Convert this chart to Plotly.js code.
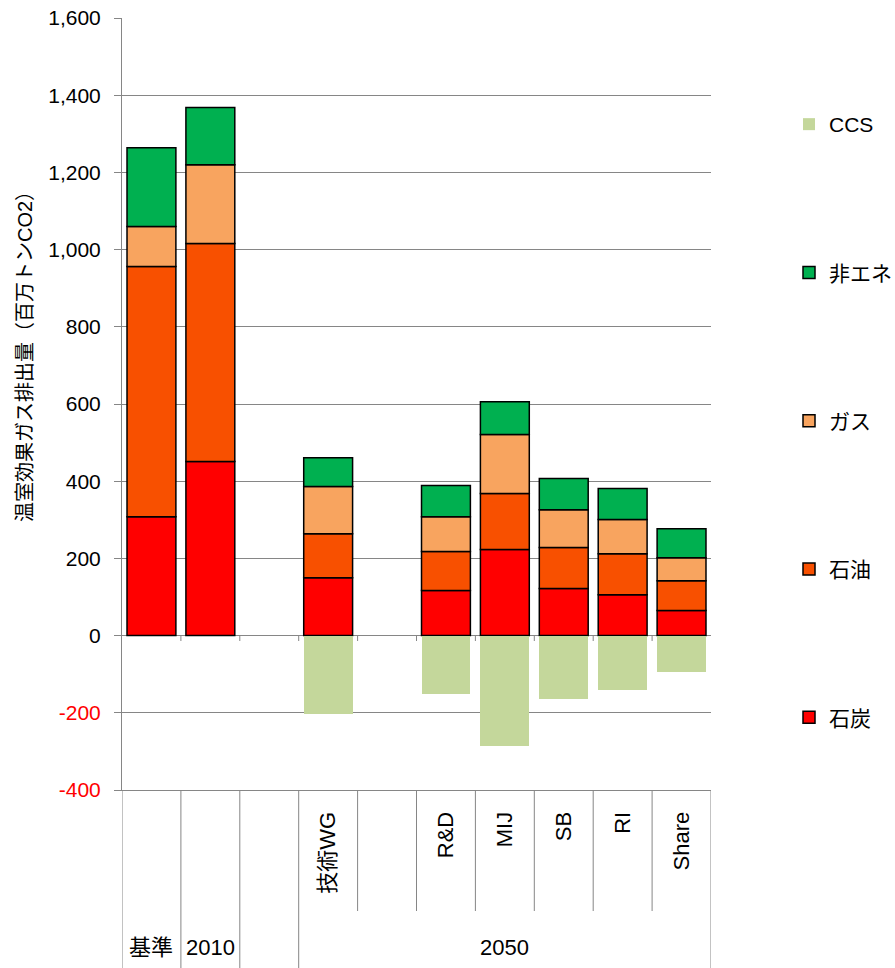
<!DOCTYPE html>
<html>
<head>
<meta charset="utf-8">
<script src="https://cdn.plot.ly/plotly-3.0.1.min.js"></script>
<style>html,body{margin:0;padding:0;background:#fff;}#chart{width:895px;height:968px;}</style>
</head>
<body>
<div id="chart"></div>
<script>
// ---- data ----
var innerLabels = ['', '', '', '技術WG', '', 'R&D', 'MIJ', 'SB', 'RI', 'Share'];
var groupKeys   = ['基準', '2010', '_gap', '2050', '2050', '2050', '2050', '2050', '2050', '2050'];
var groupLabels = ['基準', '2010', '2050'];
var coal    = [308, 451, null, 150, null, 117, 223, 122, 106, 65];
var oil     = [648, 565, null, 114, null, 101, 145, 106, 106, 77];
var gas     = [104, 204, null, 122, null, 90, 153, 98, 89, 60];
var nonEne  = [204, 148, null, 75, null, 81, 85, 81, 80, 75];
var ccs     = [null, null, null, -202, null, -150, -285, -163, -140, -93];
var seriesNames = ['石炭', '石油', 'ガス', '非エネ', 'CCS'];
var yTickVals = [-400, -200, 0, 200, 400, 600, 800, 1000, 1200, 1400, 1600];
var yTitle = '温室効果ガス排出量（百万トンCO2）';

// ---- build ----
var FONT = 'Liberation Sans, Arial, Noto Sans CJK JP, sans-serif';
var colors = ['#FF0000', '#F85000', '#F8A45F', '#00B050', '#C4D79B'];
var xs = innerLabels.map(function (_, i) { return i; });
var seriesVals = [coal, oil, gas, nonEne, ccs];
var traces = seriesVals.map(function (vals, k) {
  return {
    type: 'bar', x: xs, y: vals, name: seriesNames[k], legendgroup: 'g' + k,
    legendrank: seriesVals.length - k,
    width: 0.83,
    marker: { color: colors[k], line: { color: k === 4 ? colors[k] : '#000000', width: k === 4 ? 0 : 1.5 } },
    hoverinfo: 'skip'
  };
});

var yTickText = yTickVals.map(function (v) {
  var s = Math.abs(v).toLocaleString('en-US');
  if (v < 0) return '<span style="fill:#FF0000;color:#FF0000">-' + s + '</span>';
  return s;
});

var shapes = [];
var yFull = -(968 - 790) / 772, yShort = -(911 - 790) / 772;
for (var b = -1; b < innerLabels.length; b++) {
  var full = (b === -1 || b === innerLabels.length - 1 || groupKeys[b] !== groupKeys[b + 1]);
  shapes.push({ type: 'line', xref: 'x', yref: 'paper', x0: b + 0.5, x1: b + 0.5, y0: 0, y1: full ? yFull : yShort,
    line: { color: '#868686', width: 1 } });
  if (b >= 0 && b < innerLabels.length - 1) {
    shapes.push({ type: 'line', xref: 'x', yref: 'y', x0: b + 0.5, x1: b + 0.5, y0: 0, y1: -14,
      line: { color: '#868686', width: 1 } });
  }
}

var annotations = [];
groupLabels.forEach(function (g) {
  var idx = [];
  groupKeys.forEach(function (k, i) { if (k === g) idx.push(i); });
  var cx = (idx[0] + idx[idx.length - 1]) / 2;
  annotations.push({ xref: 'x', yref: 'paper', x: cx, y: -(947 - 790) / 772, text: g, showarrow: false,
    xanchor: 'center', yanchor: 'middle', font: { family: FONT, size: 22, color: '#000' } });
});
annotations.push({ xref: 'paper', yref: 'paper', x: -(122 - 25) / 589, y: (790 - 352) / 772, text: yTitle,
  textangle: -90, showarrow: false, xanchor: 'center', yanchor: 'middle',
  font: { family: FONT, size: 20, color: '#000' } });

var layout = {
  width: 895, height: 968,
  margin: { l: 122, r: 184, t: 18, b: 178, autoexpand: false },
  paper_bgcolor: '#ffffff', plot_bgcolor: '#ffffff',
  barmode: 'relative', bargap: 0,
  font: { family: FONT, size: 20, color: '#000' },
  showlegend: true,
  legend: { xref: 'container', yref: 'container', x: 789 / 895, xanchor: 'left', y: 1 - 104 / 968, yanchor: 'top',
    traceorder: 'grouped', tracegroupgap: 118, maxheight: 850,
    font: { family: FONT, size: 21, color: '#000' }, bgcolor: 'rgba(0,0,0,0)' },
  xaxis: {
    range: [-0.5, 9.5], tickmode: 'array', tickvals: xs, ticktext: innerLabels, tickangle: -90,
    ticks: '', showgrid: false, zeroline: false, showline: true, linecolor: '#868686', linewidth: 1,
    ticklabelstandoff: 12, tickfont: { family: FONT, size: 22, color: '#000' }, fixedrange: true
  },
  yaxis: {
    range: [-400, 1600], tickmode: 'array', tickvals: yTickVals, ticktext: yTickText,
    ticks: 'outside', ticklen: 7, tickcolor: '#868686', tickwidth: 1,
    showgrid: true, gridcolor: '#868686', gridwidth: 1,
    zeroline: true, zerolinecolor: '#868686', zerolinewidth: 1,
    showline: true, linecolor: '#868686', linewidth: 1,
    ticklabelstandoff: 9, tickfont: { family: FONT, size: 21, color: '#000' },
    fixedrange: true
  },
  shapes: shapes,
  annotations: annotations
};

Plotly.newPlot('chart', traces, layout, { displayModeBar: false, staticPlot: true });
</script>
</body>
</html>
